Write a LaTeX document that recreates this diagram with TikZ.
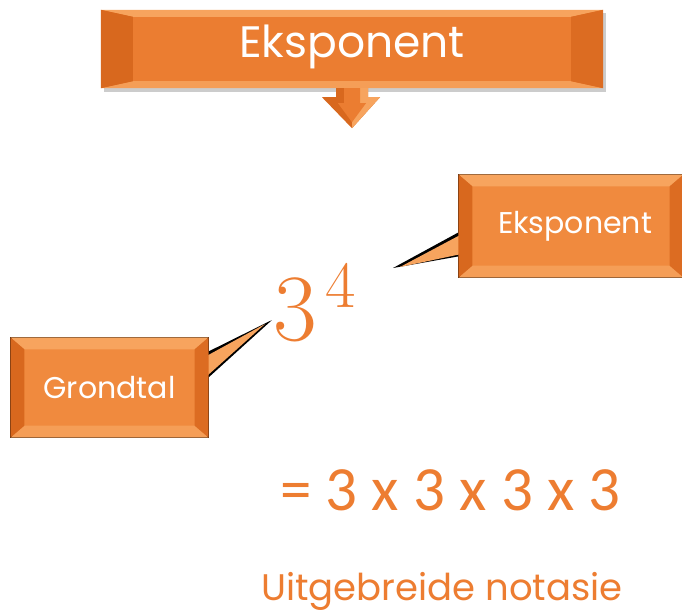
\documentclass[tikz,border=0pt]{standalone}
\usepackage{fontspec}
\usetikzlibrary{calc}
\newfontfamily\roundfont{Poppins}
\newfontfamily\calfont{Carlito}
\newfontfamily\serfont{Latin Modern Roman}
\definecolor{org}{HTML}{EB7D31}
\definecolor{orgL}{HTML}{F7A45E}
\definecolor{orgD}{HTML}{D8681E}
\definecolor{orgM}{HTML}{F08A3E}
\definecolor{txt}{HTML}{ED7D31}
\tikzset{
  bannerbox/.style={fill=org, inner sep=0pt},
  callbox/.style={fill=orgM, draw=black, line width=1.2pt, inner sep=0pt},
  labeltxt/.style={text=white}
}
\newcommand{\bevel}[3]{% node, dx, dy (unitless, y downward)
  \fill[orgL] (#1.north west) -- (#1.north east) -- ($(#1.north east)+(-#2,#3)$) -- ($(#1.north west)+(#2,#3)$) -- cycle;
  \fill[orgL!85!org] (#1.south west) -- (#1.south east) -- ($(#1.south east)+(-#2,-#3)$) -- ($(#1.south west)+(#2,-#3)$) -- cycle;
  \fill[orgD] (#1.north west) -- ($(#1.north west)+(#2,#3)$) -- ($(#1.south west)+(#2,-#3)$) -- (#1.south west) -- cycle;
  \fill[orgD!80!org] (#1.north east) -- ($(#1.north east)+(-#2,#3)$) -- ($(#1.south east)+(-#2,-#3)$) -- (#1.south east) -- cycle;
}
\begin{document}
\begin{tikzpicture}[x=1pt,y=-1pt]
\fill[white] (0,0) rectangle (682,614);
\useasboundingbox (0,0) rectangle (682,614);

% top banner
\fill[black!20] (104,13) rectangle (606,92);
\node[bannerbox, minimum width=502pt, minimum height=78pt] (ban) at (352,49) {};
\bevel{ban}{32}{7}
\node[labeltxt, font=\roundfont\fontsize{44}{44}\selectfont] at ($(ban.center)+(0,-2)$) {Eksponent};

% down arrow
\coordinate (arrtop) at (ban.south);
\fill[orgD] ($(arrtop)+(-16,0)$) -- ($(arrtop)+(16,0)$) -- ($(arrtop)+(16,9)$) -- ($(arrtop)+(28,9)$) -- ($(arrtop)+(0,40)$) -- ($(arrtop)+(-30,9)$) -- ($(arrtop)+(-16,9)$) -- cycle;
\fill[orgL] ($(arrtop)+(0,0)$) -- ($(arrtop)+(16,0)$) -- ($(arrtop)+(16,9)$) -- ($(arrtop)+(28,9)$) -- ($(arrtop)+(0,40)$) -- cycle;
\fill[org] ($(arrtop)+(-8,0)$) -- ($(arrtop)+(8,0)$) -- ($(arrtop)+(8,15)$) -- ($(arrtop)+(14,15)$) -- ($(arrtop)+(0,34)$) -- ($(arrtop)+(-14,15)$) -- ($(arrtop)+(-8,15)$) -- cycle;

% 3^4
\node[text=txt, inner sep=0pt, anchor=base west, font=\serfont\fontsize{95}{95}\selectfont] (base) at (273,340) {3};
\node[text=txt, inner sep=0pt, anchor=base west, font=\serfont\fontsize{66}{66}\selectfont] (expo) at (325,307) {4};

% Eksponent callout
\node[callbox, minimum width=224pt, minimum height=102pt] (eks) at (571,226) {};
\coordinate (eksTip) at (393,268);
\fill[black] ($(eks.north west)+(0,58)$) -- (eksTip) -- ($(eks.north west)+(0,82)$) -- cycle;
\fill[orgL] ($(eks.north west)+(1,61)$) -- ($(eksTip)+(7,-1)$) -- ($(eks.north west)+(1,80)$) -- cycle;
\bevel{eks}{14}{12}
\node[labeltxt, font=\roundfont\fontsize{30}{30}\selectfont] at ($(eks.center)+(4,0)$) {Eksponent};

% Grondtal callout
\node[callbox, minimum width=197pt, minimum height=99pt] (gro) at (109.5,387.5) {};
\coordinate (groTip) at (272,320);
\fill[black] ($(gro.north east)+(0,14)$) -- (groTip) -- ($(gro.north east)+(0,40)$) -- cycle;
\fill[orgL] ($(gro.north east)+(-1,18)$) -- ($(groTip)+(-7,4)$) -- ($(gro.north east)+(-1,38)$) -- cycle;
\bevel{gro}{14}{12}
\node[labeltxt, font=\roundfont\fontsize{30}{30}\selectfont] at ($(gro.center)+(0,0)$) {Grondtal};

% expansion
\node[text=txt, inner sep=0pt, anchor=base west, font=\calfont\fontsize{63}{63}\selectfont] (exp) at (280,510) {= 3 x 3 x 3 x 3};
\node[text=txt, inner sep=0pt, anchor=base west, font=\roundfont\fontsize{37}{37}\selectfont] (uit) at (261,600) {Uitgebreide notasie};
\end{tikzpicture}
\end{document}
